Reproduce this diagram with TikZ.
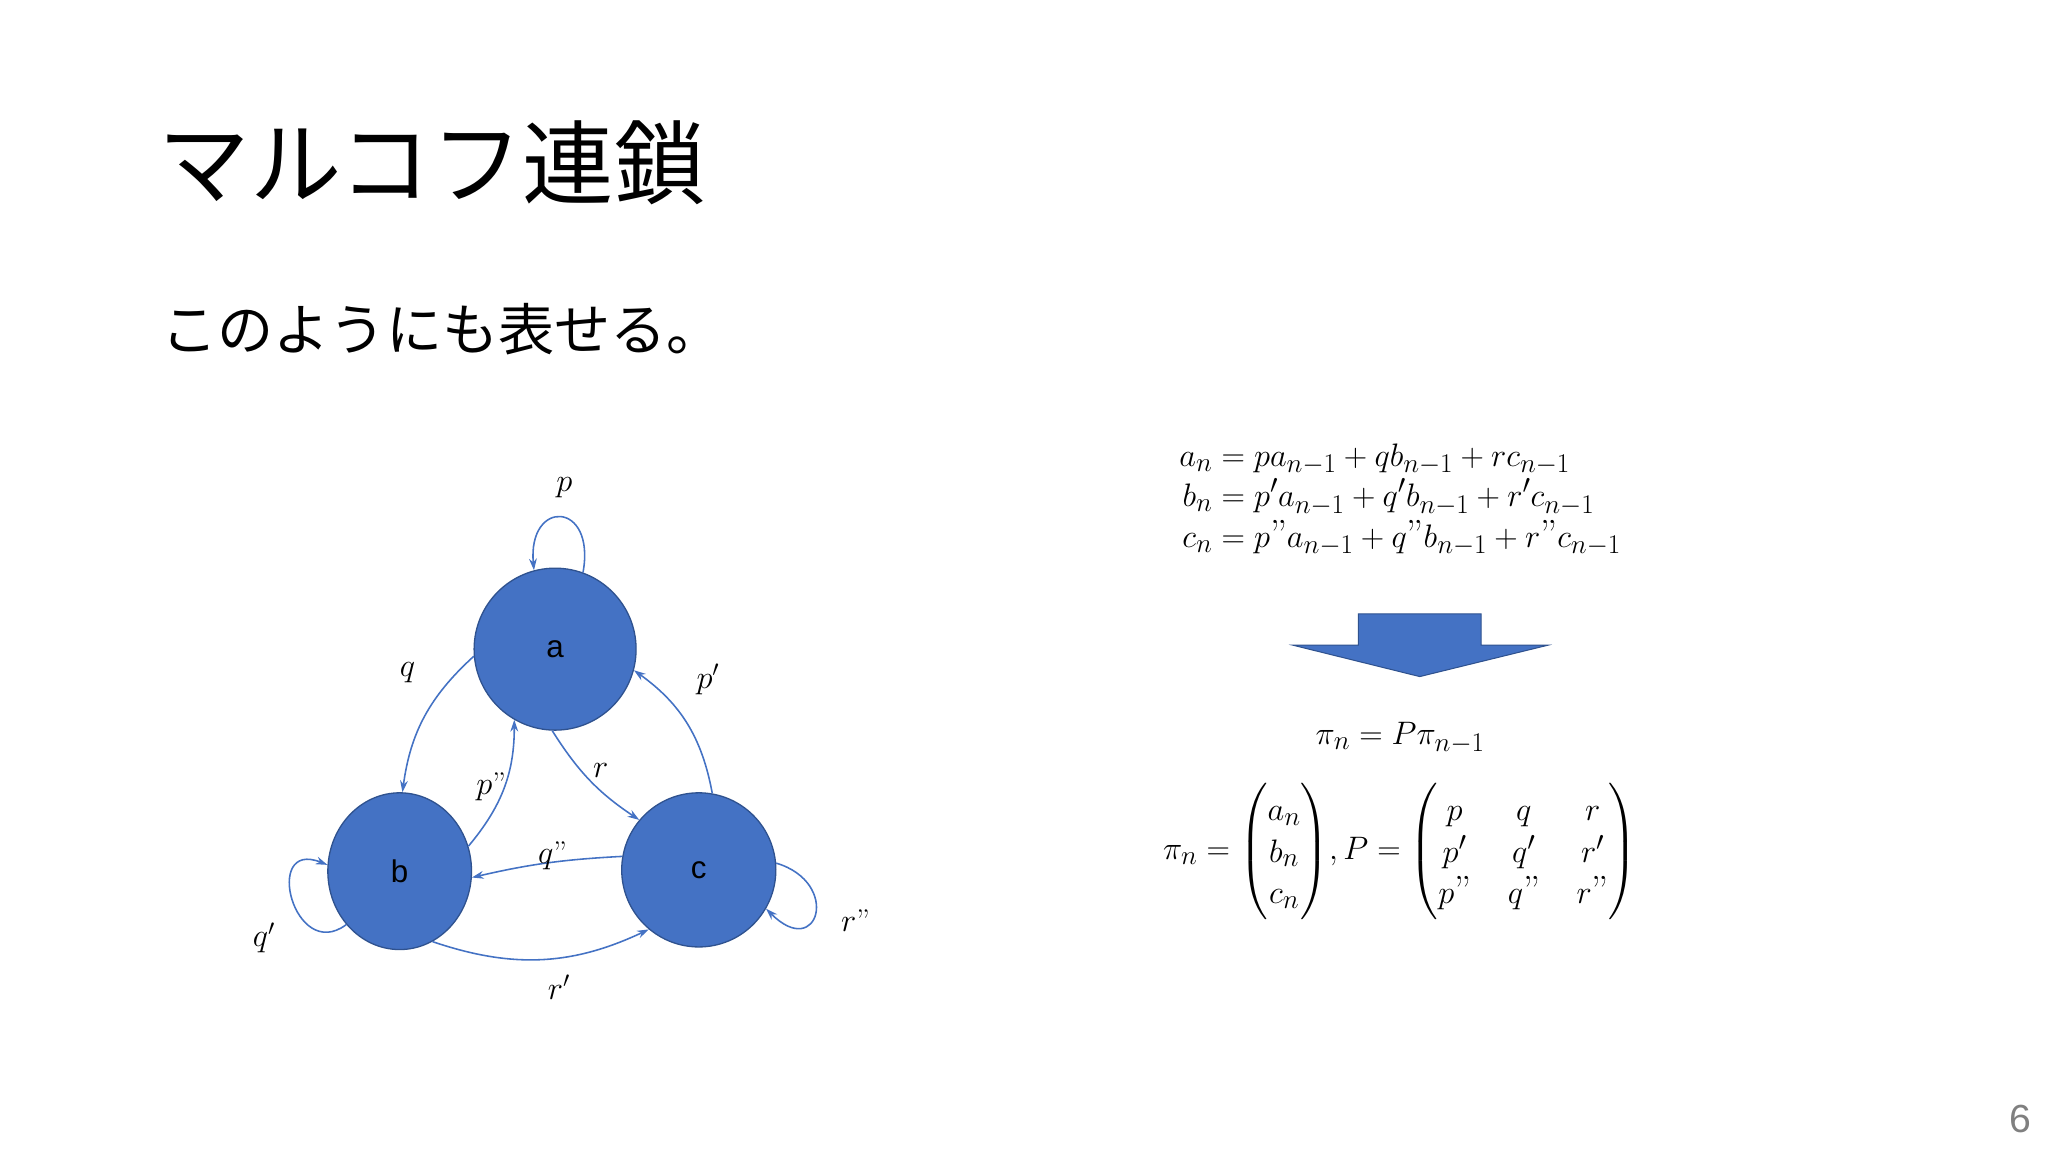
\documentclass[tikz,border=0pt]{standalone}
\usepackage{amsmath}
\usepackage{fontspec}
\newfontfamily\cjk{Noto Sans CJK JP}
\newfontfamily\lsans{Liberation Sans}
\usetikzlibrary{arrows.meta,shapes.geometric}
\definecolor{nblue}{HTML}{4472C4}
\definecolor{nedge}{HTML}{2F528F}
\tikzset{
 st/.style={circle,fill=nblue,draw=nedge,line width=1pt,font=\lsans\fontsize{24}{24}\selectfont,text=black,inner sep=0},
 ed/.style={draw=nblue,line width=1.2pt,-{Stealth[length=9pt,width=6pt]}},
 lb/.style={font=\fontsize{24}{24}\selectfont},
 eq/.style={font=\fontsize{30}{40}\selectfont}
}
\newcommand{\dq}{\text{\char34}}
\begin{document}
\begin{tikzpicture}[x=1pt,y=-1pt]
\useasboundingbox (0,0) rectangle (1568,882);
\fill[white] (0,0) rectangle (1568,882);
\node[anchor=west,font=\cjk\fontsize{70}{70}\selectfont] (title) at (118,125) {マルコフ連鎖};
\node[anchor=west,font=\cjk\fontsize{43}{43}\selectfont] (sub) at (120,252) {このようにも表せる。};
\node[st,minimum size=124pt] (a) at (425,497) {a};
\node[st,ellipse,minimum width=110pt,minimum height=120pt] (b) at (306,667) {b};
\node[st,minimum size=118pt] (c) at (535,666) {c};
% loops
\draw[ed] (a.70) .. controls +(10,-55) and +(-5,-55) .. (a.105);
\draw[ed] (b.225) .. controls +(-40,30) and +(-50,-20) .. (b.175);
\draw[ed] (c.5) .. controls +(50,15) and +(40,40) .. (c.-30);
\node[lb] (lp) at (432,373) {$p$};
\node[lb] (lq1) at (202,718) {$q'$};
\node[lb] (lr2) at (655,705) {$r\dq$};
% edges
\draw[ed] (a.185) to[bend right=20] (b.88);
\draw[ed] (b.20) to[bend right=20] (a.240);
\draw[ed] (a.268) to[bend right=12] (c.140);
\draw[ed] (c.80) to[bend right=22] (a.-15);
\draw[ed] (c.170) to[bend right=5] (b.-5);
\draw[ed] (b.-65) to[bend right=22] (c.-130);
\node[lb] (lq) at (312,515) {$q$};
\node[lb] (lp2) at (376,602) {$p\dq$};
\node[lb] (lr) at (460,590) {$r$};
\node[lb] (lp1) at (542,520) {$p'$};
\node[lb] (lq2) at (423,655) {$q\dq$};
\node[lb] (lr1) at (428,756) {$r'$};
% equations
\node[eq] (eqs) at (1072,380) {$\begin{aligned}a_n &= pa_{n-1}+qb_{n-1}+rc_{n-1}\\[-12pt] b_n &= p'a_{n-1}+q'b_{n-1}+r'c_{n-1}\\[-12pt] c_n &= p\dq a_{n-1}+q\dq b_{n-1}+r\dq c_{n-1}\end{aligned}$};
\fill[nblue,draw=nedge,line width=0.8pt] (1040,470) -- (1134,470) -- (1134,494) -- (1185,494) -- (1087,518) -- (990,494) -- (1040,494) -- cycle;
\node[eq] (pi) at (1072,565) {$\pi_n = P\pi_{n-1}$};
\node[eq] (mat) at (1072,652) {\setlength\arraycolsep{14pt}$\pi_n=\left(\begin{array}{@{}c@{}}a_n\\[-8pt] b_n\\[-8pt] c_n\end{array}\right)\!,P=\left(\begin{array}{@{}ccc@{}}p & q & r\\[-8pt] p' & q' & r'\\[-8pt] p\dq & q\dq & r\dq\end{array}\right)$};
\node[font=\lsans\fontsize{30}{30}\selectfont,text=gray] (pg) at (1547,857) {6};
\end{tikzpicture}
\end{document}
